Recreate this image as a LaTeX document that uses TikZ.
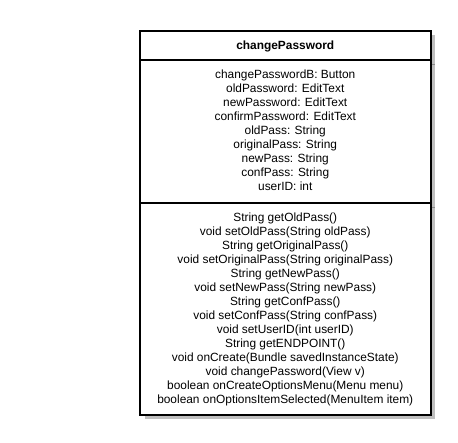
\documentclass[tikz,border=0pt]{standalone}
\usepackage{fontspec}
\setmainfont{Liberation Sans}
\def\boxwidth{2pt}
\newcommand{\umlfont}{\fontsize{11.9}{14}\selectfont}

\begin{document}
\begin{tikzpicture}[x=1pt,y=-1pt,
  frame/.style={draw=black,line width=\boxwidth,fill=white},
  shadow/.style={fill=black!25,draw=none},
  part/.style={inner sep=0pt,align=center,font=\umlfont}]
\useasboundingbox (0,0) rectangle (458,442);
% shadow
\fill[shadow] (144.5,34.5) rectangle (435,419);
\draw[black!45,line width=1pt] (431.5,64.5) -- (435,64.5) (431.5,207) -- (435,207);
% class box
\coordinate (nw) at (140,30.5);
\coordinate (se) at (430.5,414.5);
\draw[frame] (nw) rectangle (se);
\draw[line width=\boxwidth] (140,60) -- (430.5,60);
\draw[line width=\boxwidth] (140,202.5) -- (430.5,202.5);
% compartments
\node[part,font=\umlfont\bfseries,anchor=base] (title) at (285.25,49) {changePassword};
\node[part,anchor=north] (attrs) at (285.25,68.5) {\strut changePasswordB: Button\\
  oldPassword: EditText\\ newPassword: EditText\\ confirmPassword: EditText\\
  oldPass: String\\ originalPass: String\\ newPass: String\\ confPass: String\\ userID: int};
\node[part,anchor=north] (ops) at (285.25,211) {\strut String getOldPass()\\
  void setOldPass(String oldPass)\\ String getOriginalPass()\\
  void setOriginalPass(String originalPass)\\ String getNewPass()\\
  void setNewPass(String newPass)\\ String getConfPass()\\
  void setConfPass(String confPass)\\ void setUserID(int userID)\\
  String getENDPOINT()\\ void onCreate(Bundle savedInstanceState)\\
  void changePassword(View v)\\ boolean onCreateOptionsMenu(Menu menu)\\
  boolean onOptionsItemSelected(MenuItem item)};
\end{tikzpicture}
\end{document}
